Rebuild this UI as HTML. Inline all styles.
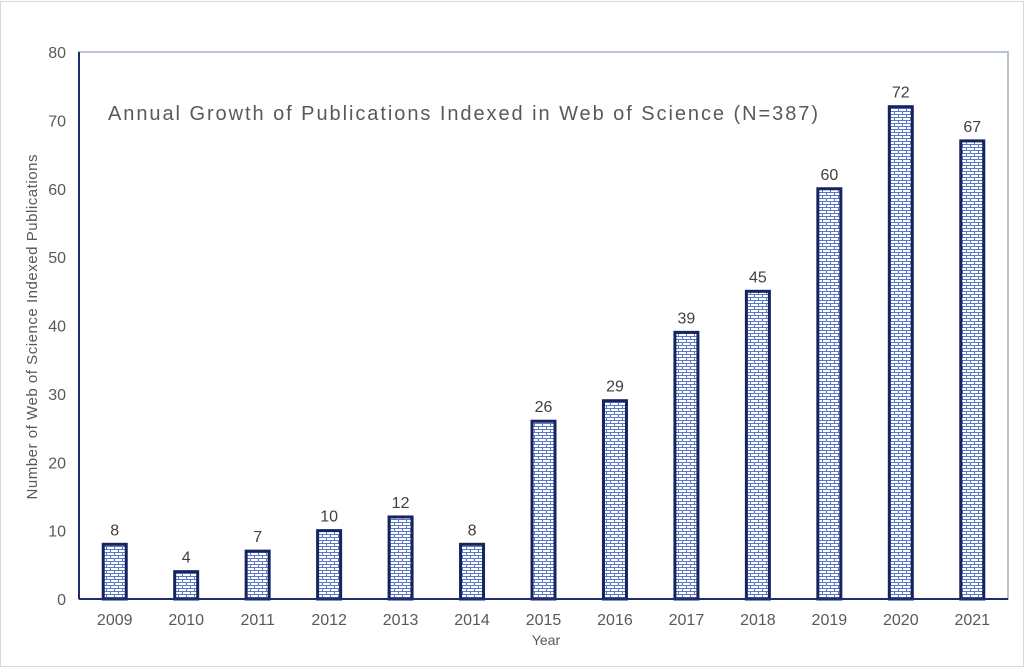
<!DOCTYPE html>
<html><head><meta charset="utf-8"><style>
body{margin:0;background:#fff;}
svg{display:block;font-family:"Liberation Sans",Arial,sans-serif;}
</style></head><body>
<svg width="1024" height="669" viewBox="0 0 1024 669">
<defs>
<pattern id="brick" width="8" height="6" patternUnits="userSpaceOnUse">
<rect width="8" height="6" fill="#fff"/>
<rect x="0" y="0" width="8" height="1" fill="#5a78c8"/>
<rect x="0" y="3" width="8" height="1" fill="#5a78c8"/>
<rect x="2" y="0" width="1" height="3" fill="#5a78c8"/>
<rect x="6" y="3" width="1" height="3" fill="#5a78c8"/>
</pattern>
</defs>
<rect x="0.5" y="1.5" width="1023" height="665" fill="#fff" stroke="#d8d8d8"/>
<rect x="79" y="52" width="929" height="547" fill="none" stroke="#a3aec8" stroke-width="1.5"/>
<g id="ticks"></g>
<g id="bars"></g>
<line x1="79" y1="52" x2="79" y2="599" stroke="#1f2d6b" stroke-width="2"/>
<line x1="79" y1="599" x2="1008" y2="599" stroke="#1f2d6b" stroke-width="2"/>
<text x="108" y="120" font-size="20" fill="#595959" textLength="710" lengthAdjust="spacing">Annual Growth of Publications Indexed in Web of Science (N=387)</text>
<text transform="translate(37,327) rotate(-90)" text-anchor="middle" font-size="15" fill="#595959" textLength="345" lengthAdjust="spacing">Number of Web of Science Indexed Publications</text>
<text x="546" y="645" text-anchor="middle" font-size="14" fill="#595959">Year</text>
</svg>
<script>
const years=["2009","2010","2011","2012","2013","2014","2015","2016","2017","2018","2019","2020","2021"];
const counts=[8,4,7,10,12,8,26,29,39,45,60,72,67];
const yTicks=[0,10,20,30,40,50,60,70,80];
const NS="http://www.w3.org/2000/svg";
const pLeft=79,pRight=1008,pTop=52,pBottom=599,yMax=80;
const band=(pRight-pLeft)/years.length;
function xPos(i){return pLeft+band*(i+0.5);}
function yPos(v){return pBottom-(pBottom-pTop)*v/yMax;}
function mk(tag,attrs,parent,txt){const e=document.createElementNS(NS,tag);for(const k in attrs)e.setAttribute(k,attrs[k]);if(txt!==undefined)e.textContent=txt;parent.appendChild(e);return e;}
const tg=document.getElementById('ticks'),bg=document.getElementById('bars');
yTicks.forEach(t=>{
 const e=mk('text',{x:66,y:yPos(t)+6,'text-anchor':'end','font-size':16,fill:'#595959'},tg,String(t));
 
 
});
years.forEach((yr,i)=>{
 const bw=23,cx=xPos(i);
 const r=mk('rect',{x:cx-bw/2,y:yPos(counts[i]),width:bw,height:pBottom-yPos(counts[i]),fill:'url(#brick)',stroke:'#14245e','stroke-width':3},bg);
 
 
 const l=mk('text',{x:cx,y:yPos(counts[i])-9,'text-anchor':'middle','font-size':16,fill:'#404040'},bg,String(counts[i]));
 
 
 const t=mk('text',{x:cx,y:625,'text-anchor':'middle','font-size':16,fill:'#595959'},bg,yr);
 
 
});
</script>
</body></html>
